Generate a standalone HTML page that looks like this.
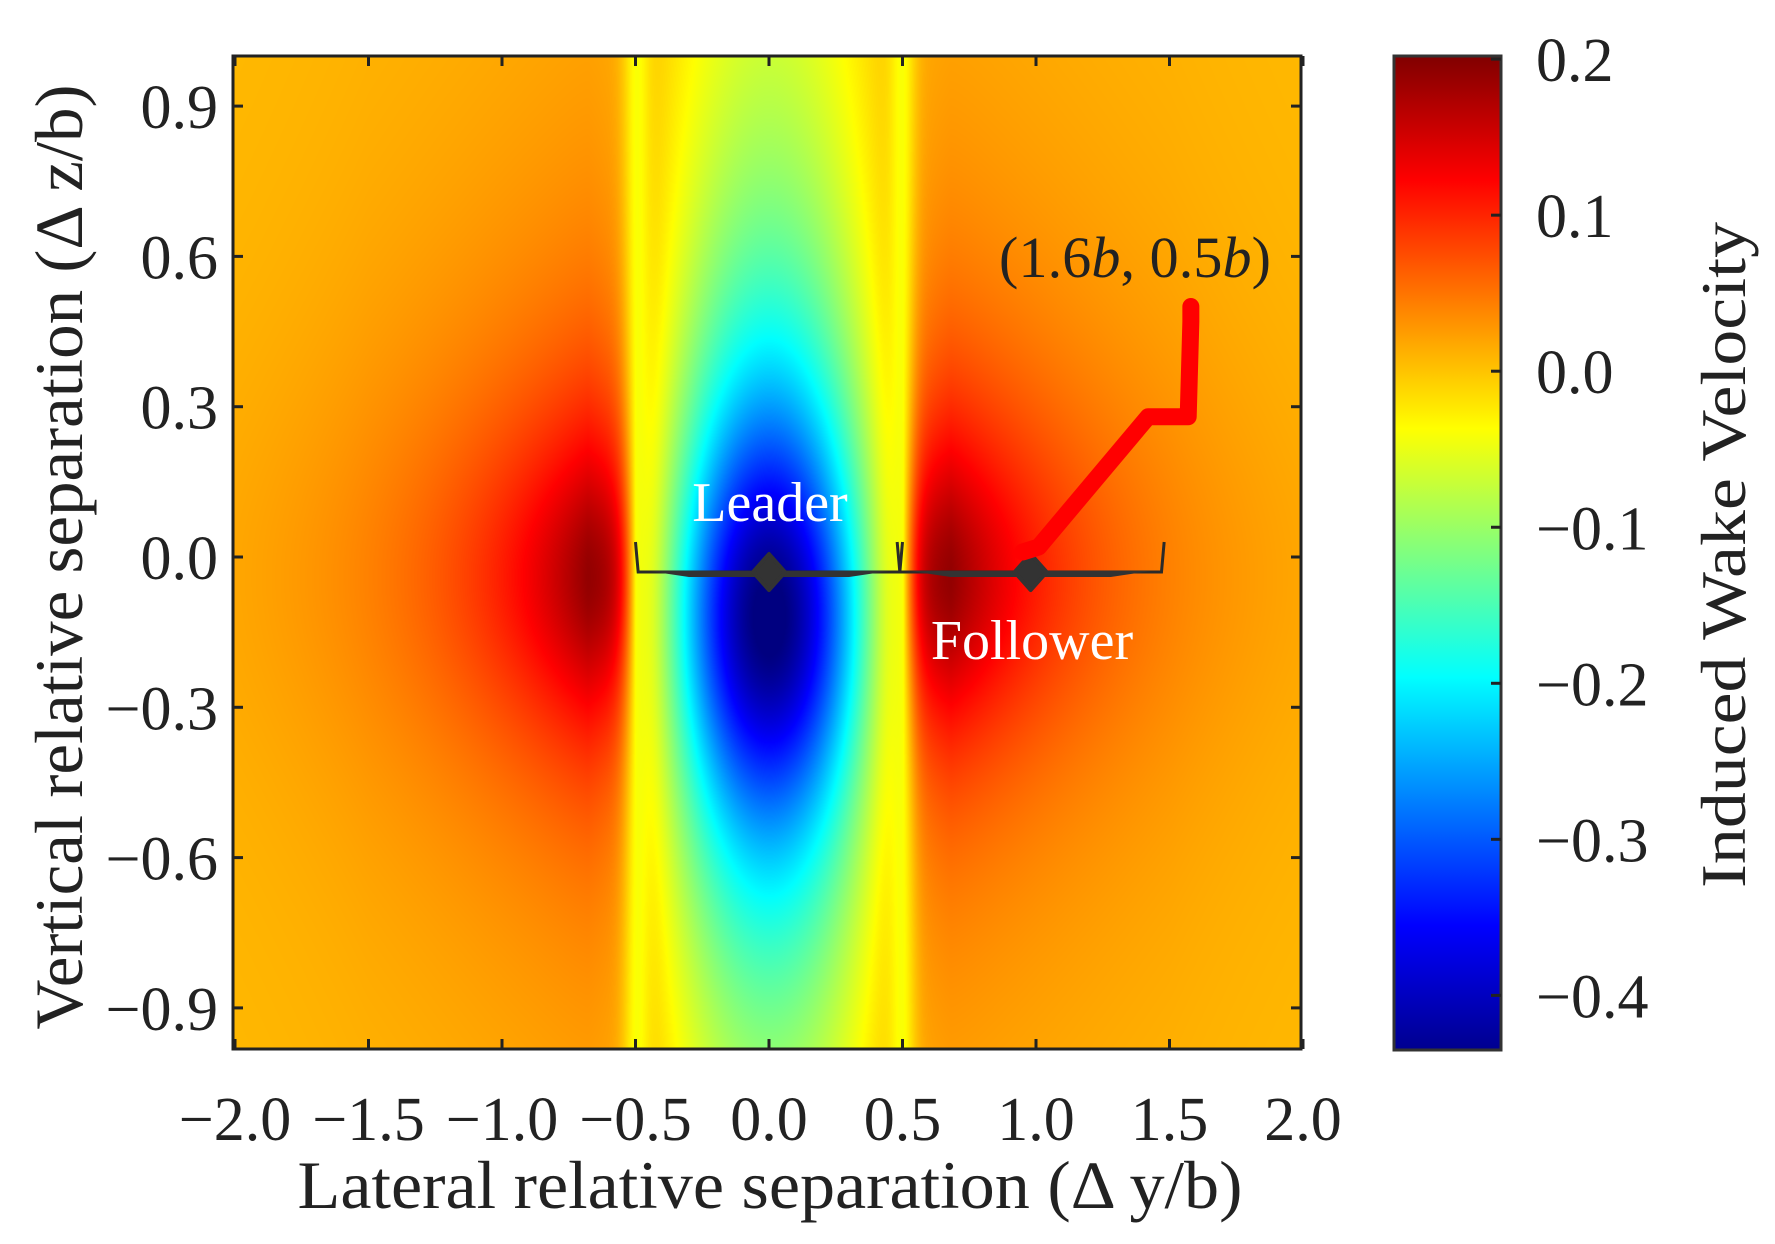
<!DOCTYPE html>
<html><head><meta charset="utf-8"><style>
html,body{margin:0;padding:0;background:#fff;}
#wrap{position:relative;width:1775px;height:1244px;overflow:hidden;}
canvas{position:absolute;}
svg{position:absolute;left:0;top:0;}
text{font-family:"Liberation Serif","Times New Roman",serif;fill:#222;}
</style></head><body>
<div id="wrap">
<canvas id="field" width="1068" height="993" style="left:233px;top:56px;"></canvas>
<svg id="svg" width="1775" height="1244">
<defs><linearGradient id="jet" x1="0" y1="1" x2="0" y2="0">
<stop offset="0" stop-color="#00008f"/><stop offset="0.125" stop-color="#0000ff"/><stop offset="0.375" stop-color="#00ffff"/><stop offset="0.625" stop-color="#ffff00"/><stop offset="0.875" stop-color="#ff0000"/><stop offset="1" stop-color="#800000"/></linearGradient></defs>
<g id="g"></g>
</svg>
</div>
<script>
// ---- data ----
const xTicks=[-2.0,-1.5,-1.0,-0.5,0.0,0.5,1.0,1.5,2.0];
const yTicks=[0.9,0.6,0.3,0.0,-0.3,-0.6,-0.9];
const cbTicks=[0.2,0.1,0.0,-0.1,-0.2,-0.3,-0.4];
const pathY=[0.95,1.01,1.42,1.57,1.58,1.58];
const pathZ=[0.01,0.02,0.28,0.28,0.47,0.50];
const aircraftY=[0.0,0.98];
const aircraftZ=[-0.03,-0.03];
const vortexY=[-0.5,0.5];
const fieldBase=[0.005];
const innerAmp=[0.45];
const outerAmp=[0.19];
const cbMin=-0.435, cbMax=0.202;
// ---- axes ----
const L=233,T=56,R=1301,B=1049;
const X=v=>769+v*267;
const Y=v=>557-v*501;
const CBL=1394,CBR=1501,CBT=56,CBB=1050;
const CY=v=>CBB-(v-cbMin)/(cbMax-cbMin)*(CBB-CBT);
function jet(t){t=Math.max(0,Math.min(1,t));const c=x=>Math.max(0,Math.min(1,x));
return [c(1.5-Math.abs(4*t-3)),c(1.5-Math.abs(4*t-2)),c(1.5-Math.abs(4*t-1))].map(v=>Math.round(v*255));}
function field(y,z){
  let u=Math.abs(y), w=fieldBase[0];
  const s=vortexY[1];
  if(u<s){const c=Math.cos(Math.PI*y/(2*s));const g=1/(1+Math.pow((z+0.12)/0.5,2));w-=innerAmp[0]*Math.pow(c,1.3)*g;}
  else{const d=u-s;const h=(1-Math.exp(-d/0.05))*Math.exp(-Math.max(0,u-0.68)/0.5);
    const g=1/(1+Math.pow((z+0.04)/(0.3+0.2*Math.min(1,d)),2));w+=outerAmp[0]*h*g;}
  w-=0.045*Math.exp(-Math.pow((u-s)/0.05,2));
  return w;
}
const cv=document.getElementById('field'),ctx=cv.getContext('2d');
const img=ctx.createImageData(cv.width,cv.height);
for(let j=0;j<cv.height;j++){const z=(557-(T+j))/501;
 for(let i=0;i<cv.width;i++){const y=(L+i-769)/267;const v=field(y,z);const c=jet((v-cbMin)/(cbMax-cbMin));
  const k=(j*cv.width+i)*4;img.data[k]=c[0];img.data[k+1]=c[1];img.data[k+2]=c[2];img.data[k+3]=255;}}
ctx.putImageData(img,0,0);
const NS='http://www.w3.org/2000/svg',G=document.getElementById('g');
function el(tag,a,txt){const e=document.createElementNS(NS,tag);for(const k in a)e.setAttribute(k,a[k]);if(txt!==undefined)e.textContent=txt;G.appendChild(e);return e;}
const fmt=v=>(v<0?'\u2212':'')+Math.abs(v).toFixed(1);
// aircraft
aircraftY.forEach((ay,i)=>{
  const z=Y(aircraftZ[i]),cx=X(ay);
  let e=el('path',{d:`M${X(ay-0.5)} ${z-30} L${X(ay-0.49)} ${z} L${X(ay+0.49)} ${z} L${X(ay+0.5)} ${z-30}`,fill:'none',stroke:'#2a2a2a','stroke-width':3});
  
  e=el('path',{d:`M${X(ay-0.45)} ${z-1} L${X(ay+0.45)} ${z-1} L${X(ay+0.3)} ${z+5} L${X(ay-0.3)} ${z+5}Z`,fill:'#333'});
  
  e=el('path',{d:`M${cx} ${z-18} L${cx+16} ${z} L${cx} ${z+18} L${cx-16} ${z}Z`,fill:'#333','stroke':'#333','stroke-width':4,'stroke-linejoin':'round'});
  
});
// path
let d='';pathY.forEach((p,i)=>{d+=(i?'L':'M')+X(p)+' '+Y(pathZ[i]);});
let pe=el('path',{d:d,fill:'none',stroke:'#ff0000','stroke-width':17,'stroke-linecap':'round','stroke-linejoin':'round'});

// frame
let fr=el('rect',{x:L,y:T,width:R-L,height:B-T,fill:'none',stroke:'#222','stroke-width':3});

xTicks.forEach(v=>{const x=X(v);
  let t=el('line',{x1:x,y1:B,x2:x,y2:B-10,stroke:'#222','stroke-width':3});
  t=el('line',{x1:x,y1:T,x2:x,y2:T+10,stroke:'#222','stroke-width':3});
  t=el('text',{x:x,y:1140,'font-size':62,'text-anchor':'middle','font-family':'Liberation Serif, serif'},fmt(v));});
yTicks.forEach(v=>{const y=Y(v);
  let t=el('line',{x1:L,y1:y,x2:L+10,y2:y,stroke:'#222','stroke-width':3});
  t=el('line',{x1:R,y1:y,x2:R-10,y2:y,stroke:'#222','stroke-width':3});
  t=el('text',{x:218,y:y+22,'font-size':62,'text-anchor':'end','font-family':'Liberation Serif, serif'},fmt(v));});
// colorbar
let cb=el('rect',{x:CBL,y:CBT,width:CBR-CBL,height:CBB-CBT,fill:'url(#jet)',stroke:'#333','stroke-width':3});

cbTicks.forEach(v=>{const y=CY(v);
  let t=el('line',{x1:CBR,y1:y,x2:CBR-10,y2:y,stroke:'#222','stroke-width':3});
  t=el('text',{x:1536,y:y+22,'font-size':62,'font-family':'Liberation Serif, serif'},fmt(v));});
</script>
<svg width="1775" height="1244" style="position:absolute;left:0;top:0">
<text x="770" y="521" font-size="56" text-anchor="middle" style="fill:#fff">Leader</text>
<text x="1032" y="659" font-size="56" text-anchor="middle" style="fill:#fff">Follower</text>
<text x="999" y="277" font-size="58" textLength="272">(1.6<tspan font-style="italic">b</tspan>, 0.5<tspan font-style="italic">b</tspan>)</text>
<text x="770" y="1208" font-size="68" text-anchor="middle" textLength="945" lengthAdjust="spacingAndGlyphs">Lateral relative separation (Δ y/b)</text>
<text transform="translate(82,557) rotate(-90)" font-size="68" text-anchor="middle" textLength="945" lengthAdjust="spacingAndGlyphs">Vertical relative separation (Δ z/b)</text>
<text transform="translate(1745,555) rotate(-90)" font-size="64" text-anchor="middle" textLength="666" lengthAdjust="spacingAndGlyphs">Induced Wake Velocity</text>
</svg>
</body></html>
